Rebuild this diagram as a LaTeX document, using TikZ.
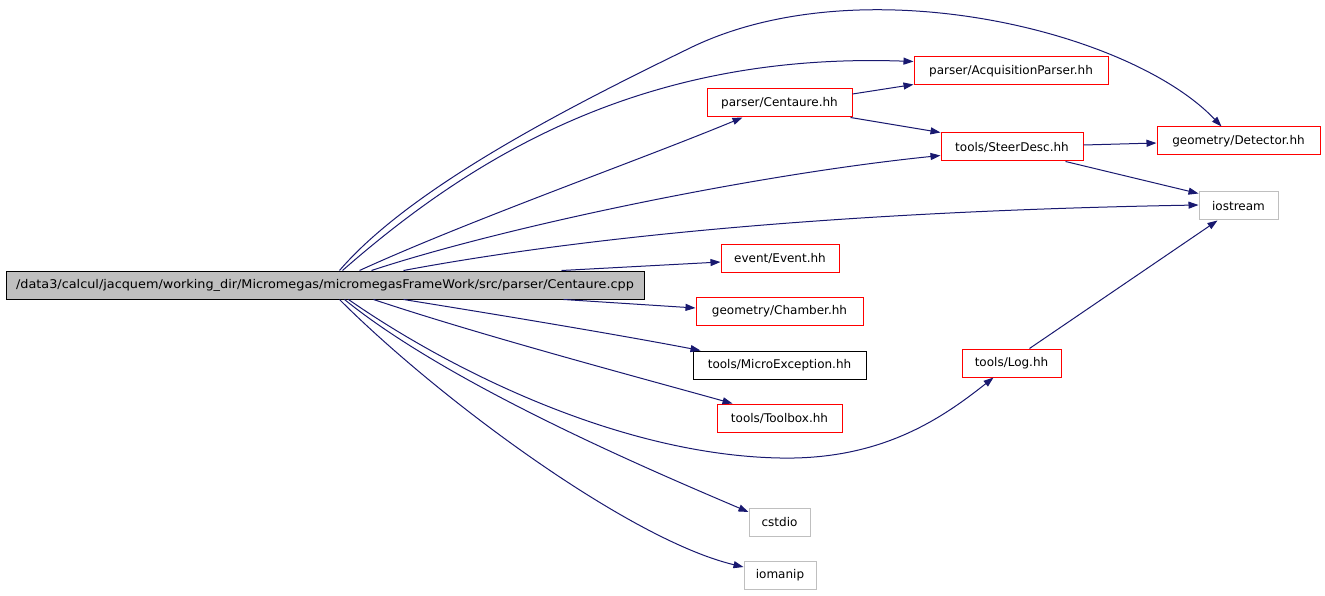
\documentclass[tikz,border=0pt]{standalone}
\usepackage{fontspec}
\setmainfont{DejaVu Sans}
\usetikzlibrary{arrows.meta,calc}
\definecolor{edgeblue}{HTML}{191970}
\definecolor{boxgray}{HTML}{BFBFBF}
\begin{document}
\begin{tikzpicture}[x=1pt,y=-1pt,
  every node/.style={font=\fontsize{12}{14}\selectfont, inner sep=0pt, minimum height=28pt, rectangle, line width=1pt},
  redbox/.style={draw=red},
  graybox/.style={draw=boxgray},
  blackbox/.style={draw=black},
  mainbox/.style={draw=black, fill=boxgray},
  dep/.style={draw=edgeblue, line width=1pt, -{Triangle[length=10pt,width=7pt]}}]
\useasboundingbox (0,0) rectangle (1325,596);
\fill[white] (0,0) rectangle (1325,596);
% nodes
\node[mainbox, minimum width=638pt, minimum height=28pt] (main) at (325,285) {\scalebox{1.069}[1]{/data3/calcul/jacquem/working\_dir/Micromegas/micromegasFrameWork/src/parser/Centaure.cpp}};
\node[redbox, minimum width=194pt] (acq) at (1011,71) {parser/AcquisitionParser.hh};
\node[redbox, minimum width=145pt] (cen) at (779.5,103) {parser/Centaure.hh};
\node[redbox, minimum width=163pt] (det) at (1238.5,141) {geometry/Detector.hh};
\node[redbox, minimum width=142pt] (steer) at (1012,147) {tools/SteerDesc.hh};
\node[graybox, minimum width=79pt] (ios) at (1238.5,206) {iostream};
\node[redbox, minimum width=118pt] (event) at (780,258) {event/Event.hh};
\node[redbox, minimum width=167pt] (chamber) at (779.5,311) {geometry/Chamber.hh};
\node[blackbox, minimum width=173pt] (micro) at (779.5,365) {tools/MicroException.hh};
\node[redbox, minimum width=125pt] (toolbox) at (779.5,418) {tools/Toolbox.hh};
\node[redbox, minimum width=99pt] (log) at (1011.5,363) {tools/Log.hh};
\node[graybox, minimum width=61pt] (cstdio) at (779.5,522) {cstdio};
\node[graybox, minimum width=72pt] (iomanip) at (780,575) {iomanip};
% edges from main (top side)
\draw[dep] ($(main.north west)+(334,0)$) .. controls (412,186) and (575,104) .. (690,48)
  .. controls (860,-35) and (1130,30) .. ($(det.north west)+(65,0)$);
\draw[dep] ($(main.north west)+(337,0)$) .. controls (480,150) and (650,52) .. ($(acq.north west)+(0,5)$);
\draw[dep] ($(main.north west)+(354,0)$) .. controls (470,220) and (640,160) .. ($(cen.south west)+(36,0)$);
\draw[dep] ($(main.north west)+(366,0)$) .. controls (500,228) and (750,175) .. ($(steer.south west)+(0,-6)$);
\draw[dep] ($(main.north west)+(398,0)$) .. controls (550,243) and (800,212) .. ($(ios.west)+(0,-1)$);
\draw[dep] ($(main.north west)+(556,0)$) -- ($(event.west)+(0,4)$);
% edges from main (bottom side)
\draw[dep] ($(main.south west)+(558,0)$) -- ($(chamber.west)+(0,-3)$);
\draw[dep] ($(main.south west)+(398,0)$) .. controls (500,315) and (620,335) .. ($(micro.north west)+(8,0)$);
\draw[dep] ($(main.south west)+(368,0)$) .. controls (480,335) and (630,375) .. ($(toolbox.north west)+(16,0)$);
\draw[dep] ($(main.south west)+(343,0)$) .. controls (450,370) and (620,455) .. (780,458)
  .. controls (880,460) and (940,420) .. ($(log.south west)+(32,0)$);
\draw[dep] ($(main.south west)+(339,0)$) .. controls (450,385) and (650,470) .. ($(cstdio.west)+(0,-10)$);
\draw[dep] ($(main.south west)+(334,0)$) .. controls (440,400) and (630,540) .. ($(iomanip.west)+(0,-8)$);
% other edges
\draw[dep] ($(cen.east)+(0,-9)$) -- ($(acq.south west)+(0,-1)$);
\draw[dep] ($(cen.south east)+(-2,0)$) -- (steer.north west);
\draw[dep] ($(steer.east)+(0,-2)$) -- ($(det.west)+(0,2)$);
\draw[dep] ($(steer.south east)+(-18,0)$) -- ($(ios.north west)+(0,2)$);
\draw[dep] ($(log.north west)+(68,0)$) -- ($(ios.south west)+(19,0)$);
\end{tikzpicture}
\end{document}
